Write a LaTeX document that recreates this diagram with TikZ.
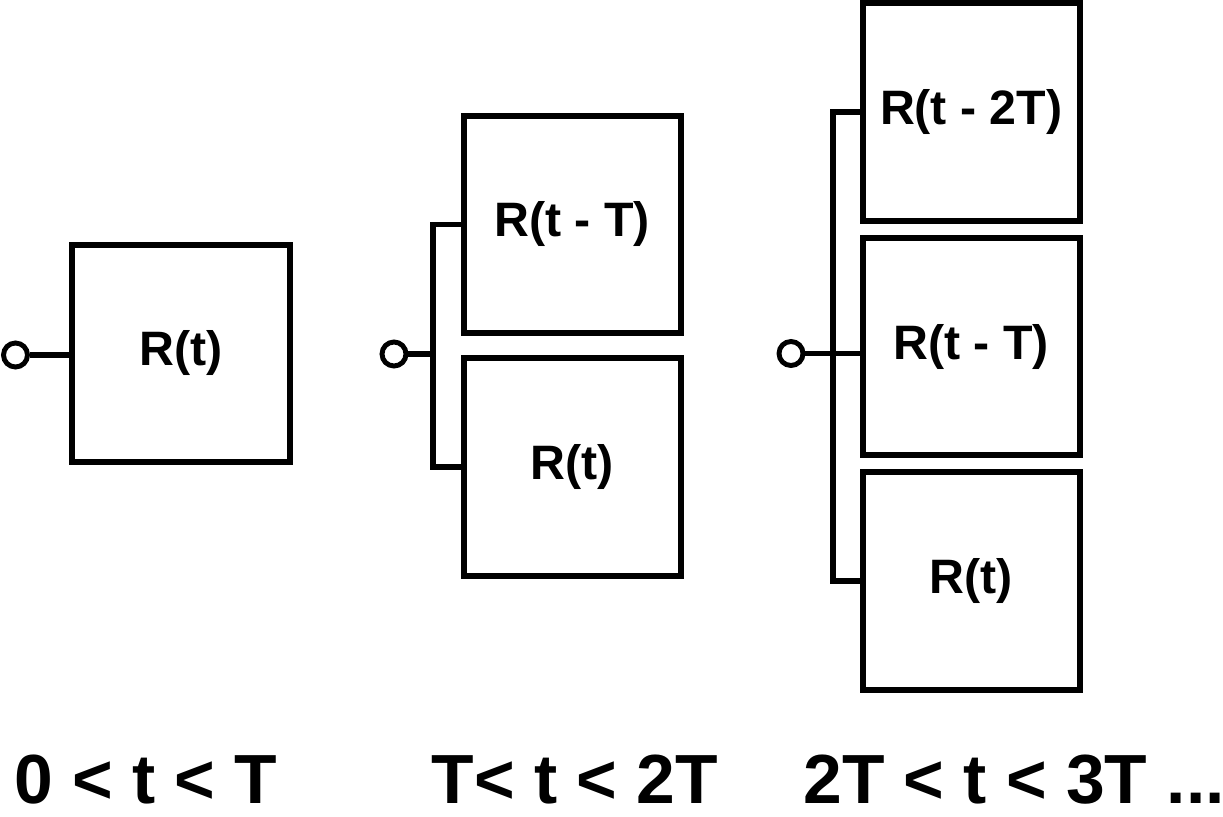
\documentclass[tikz,border=0pt]{standalone}
\usepackage{fontspec}
\setmainfont{Liberation Sans}
\begin{document}
\begin{tikzpicture}[x=0.02cm,y=-0.02cm,
  block/.style={draw, line width=3.4pt, minimum width=4.35cm, minimum height=4.35cm,
    inner sep=0pt, font=\fontsize{27.5}{32}\selectfont\bfseries},
  port/.style={draw, circle, line width=2.8pt, minimum size=0.48cm, inner sep=0pt},
  wire/.style={line width=3.1pt, line join=miter},
  timelabel/.style={inner sep=0pt, font=\fontsize{39.6}{44}\selectfont\bfseries}]
\useasboundingbox (0,0) rectangle (1223,817);

% single register
\node[block] (b1) at (181,353.5) {R(t)};
\node[port] (c1) at (15.5,355) {};
\draw[wire] (c1) -- (c1 -| b1.west);

% two registers
\node[block] (b2a) at (572.25,224.25) {R(t - T)};
\node[block] (b2b) at (572.25,467) {R(t)};
\node[port] (c2) at (394,354) {};
\coordinate (j2) at (433,354);
\draw[wire] (c2) -- (j2);
\draw[wire] (b2a.west) -| (j2) |- (b2b.west);

% three registers
\node[block] (b3a) at (971.25,112) {R(t - 2T)};
\node[block] (b3b) at (971.25,346.75) {R(t - T)};
\node[block] (b3c) at (971.25,580.85) {R(t)};
\node[port] (c3) at (791,353.5) {};
\coordinate (j3) at (833,353.5);
\draw[wire] (c3) -- (c3 -| b3b.west);
\draw[wire] (b3a.west) -| (j3) |- (b3c.west);

% time ranges
\node[timelabel, anchor=base] (r1) at (146,803) {0 < t < T};
\node[timelabel, anchor=base] (r2) at (575,803) {T< t < 2T};
\node[timelabel, anchor=base west] (r3) at (803,803) {2T < t < 3T ...};
\end{tikzpicture}
\end{document}
